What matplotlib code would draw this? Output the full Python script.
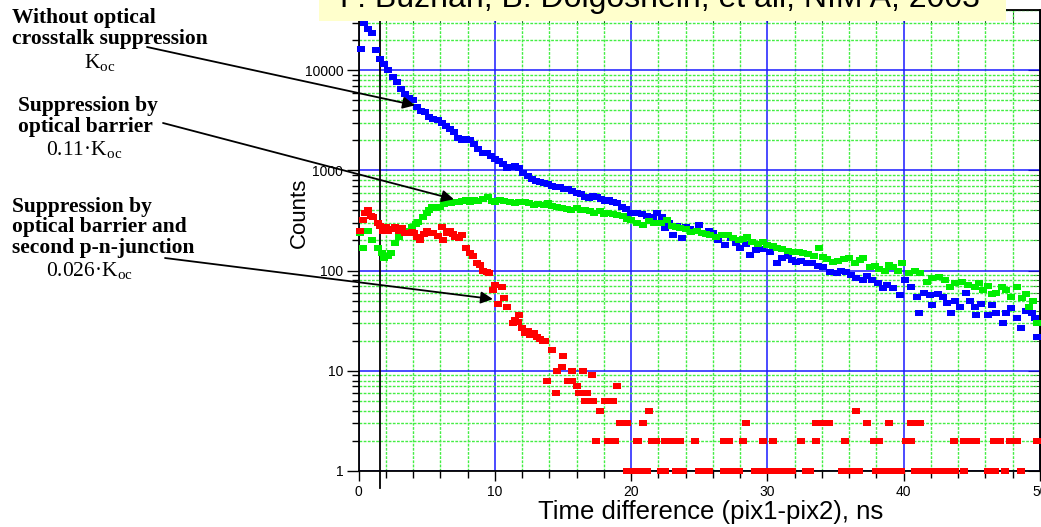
import numpy as np
import matplotlib
matplotlib.use("Agg")
import matplotlib.pyplot as plt
from matplotlib.patches import Rectangle
from matplotlib.ticker import MultipleLocator, LogLocator, NullFormatter

plt.rcParams['font.family'] = ['Liberation Sans', 'DejaVu Sans']
plt.rcParams['mathtext.fontset'] = 'custom'
plt.rcParams['mathtext.rm'] = 'Liberation Serif'

# blue: without optical crosstalk suppression
blue_t = [0.2, 0.4, 0.7, 1.0, 1.3, 1.6, 1.9, 2.2, 2.5, 2.8, 3.1, 3.4, 3.7, 4.0, 4.3, 4.6,
          4.9, 5.2, 5.5, 5.8, 6.1, 6.4, 6.7, 7.0, 7.3, 7.6, 7.9, 8.2, 8.5, 8.8, 9.1, 9.4,
          9.7, 10.0, 10.3, 10.6, 10.9, 11.2, 11.5, 11.8, 12.1, 12.4, 12.7, 13.0, 13.3, 13.6,
          13.9, 14.2, 14.5, 14.8, 15.1, 15.4, 15.7, 16.0, 16.3, 16.6, 16.9, 17.2, 17.5, 17.8,
          18.1, 18.4, 18.7, 19.0, 19.3, 19.6, 20.0, 20.4, 20.8, 21.2, 21.6, 21.9, 22.3, 22.5,
          22.8, 23.1, 23.4, 23.7, 24.0, 24.3, 24.6, 25.0, 25.3, 25.7, 26.0, 26.4, 26.9, 27.3,
          27.7, 28.0, 28.4, 28.7, 29.2, 29.6, 30.2, 30.7, 31.1, 31.5, 31.8, 32.1, 32.5, 32.9,
          33.3, 33.7, 34.1, 34.6, 35.1, 35.4, 35.8, 36.1, 36.5, 37.0, 37.3, 37.7, 38.1, 38.5,
          38.8, 39.2, 39.7, 40.1, 40.5, 41.0, 41.1, 41.5, 41.9, 42.1, 42.5, 42.9, 43.2, 43.5,
          43.8, 44.1, 44.6, 44.9, 45.2, 45.3, 45.7, 46.2, 46.5, 46.8, 47.3, 47.5, 47.9, 48.3,
          48.6, 49.0, 49.4, 49.6, 49.8]
blue_n = [16500, 30000, 26000, 23500, 16000, 13000, 11500, 10000, 8500, 7600, 6500, 5800,
          5300, 5000, 4300, 3900, 3800, 3400, 3300, 3200, 3000, 2800, 2600, 2400, 2100, 2000,
          2050, 2000, 1850, 1650, 1500, 1480, 1400, 1300, 1250, 1150, 1050, 1080, 1120, 1050,
          950, 880, 820, 780, 760, 750, 740, 700, 680, 680, 660, 650, 620, 590, 580, 540, 530,
          550, 540, 520, 500, 510, 480, 470, 430, 410, 380, 375, 370, 350, 340, 380, 340, 265,
          300, 225, 280, 210, 270, 260, 250, 285, 240, 250, 235, 200, 180, 210, 190, 170, 185,
          142, 160, 165, 153, 118, 133, 140, 128, 121, 125, 118, 120, 112, 108, 97, 94, 100,
          97, 90, 84, 80, 88, 80, 75, 67, 72, 67, 57, 80, 68, 54, 38, 60, 57, 45, 58, 54, 48,
          38, 50, 43, 60, 50, 43, 36, 47, 36, 45, 38, 30, 38, 42, 34, 27, 40, 38, 34, 22]

# green: suppression by optical barrier
green_t = [0.1, 0.3, 0.7, 1.0, 1.4, 1.7, 1.9, 2.2, 2.4, 2.7, 3.0, 3.4, 3.7, 3.9, 4.2, 4.4,
           4.7, 5.0, 5.2, 5.4, 5.7, 6.0, 6.3, 6.5, 6.8, 7.1, 7.4, 7.6, 7.9, 8.2, 8.5, 8.8,
           9.1, 9.5, 9.8, 10.0, 10.4, 10.7, 11.1, 11.5, 11.8, 12.2, 12.5, 12.9, 13.2, 13.6,
           13.9, 14.2, 14.6, 14.9, 15.3, 15.6, 16.0, 16.3, 16.6, 17.0, 17.3, 17.7, 18.0, 18.3,
           18.7, 19.0, 19.4, 19.7, 20.0, 20.4, 20.9, 21.3, 21.7, 22.2, 22.6, 23.0, 23.3, 23.6,
           24.0, 24.4, 24.8, 25.2, 25.5, 25.8, 26.2, 26.7, 27.1, 27.5, 27.9, 28.2, 28.5, 28.9,
           29.3, 29.7, 30.0, 30.4, 30.7, 31.1, 31.5, 31.9, 32.3, 32.6, 33.0, 33.4, 33.8, 34.1,
           34.4, 34.8, 35.2, 35.6, 36.0, 36.4, 36.8, 37.0, 37.5, 37.9, 38.2, 38.6, 38.9, 39.2,
           39.6, 39.9, 40.4, 40.8, 41.2, 41.7, 42.1, 42.6, 43.0, 43.4, 43.8, 44.3, 44.7, 45.2,
           45.5, 45.8, 46.2, 46.5, 46.8, 47.2, 47.5, 47.9, 48.3, 48.7, 49.0, 49.2, 49.5, 49.8]
green_n = [235, 167, 250, 200, 167, 150, 135, 140, 150, 190, 215, 235, 250, 270, 290, 305,
           340, 375, 400, 430, 420, 430, 460, 480, 470, 480, 490, 500, 510, 490, 505, 500,
           520, 540, 500, 480, 510, 500, 480, 470, 480, 490, 470, 450, 460, 455, 470, 440,
           430, 420, 410, 400, 420, 405, 400, 390, 380, 390, 370, 375, 365, 360, 350, 330,
           320, 300, 285, 310, 300, 300, 320, 280, 270, 265, 260, 245, 250, 240, 230, 225,
           215, 225, 225, 210, 200, 205, 215, 195, 185, 192, 180, 178, 170, 165, 158, 153,
           155, 150, 145, 140, 168, 137, 130, 121, 125, 130, 133, 120, 128, 133, 108, 112,
           105, 100, 115, 108, 100, 118, 94, 100, 94, 77, 85, 86, 80, 68, 75, 77, 72, 68, 75,
           64, 70, 58, 60, 68, 64, 55, 68, 53, 58, 43, 50, 30]

# red: suppression by optical barrier and second p-n-junction
red_t = [0.1, 0.3, 0.5, 0.7, 0.9, 1.1, 1.4, 1.6, 1.8, 2.0, 2.2, 2.5, 2.7, 3.0, 3.2, 3.4,
         3.6, 3.9, 4.1, 4.3, 4.5, 4.8, 5.0, 5.3, 5.5, 5.8, 6.1, 6.2, 6.5, 6.7, 6.9, 7.1,
         7.4, 7.6, 7.9, 8.2, 8.4, 8.7, 8.9, 9.1, 9.4, 9.6, 9.9, 10.0, 10.2, 10.5, 10.7, 10.9,
         11.3, 11.5, 11.7, 11.8, 12.0, 12.2, 12.4, 12.6, 12.9, 13.1, 13.3, 13.5, 13.7, 13.8,
         14.2, 14.5, 14.6, 14.9, 15.0, 15.4, 15.7, 15.7, 16.0, 16.2, 16.5, 16.6, 16.8, 17.1,
         17.2, 18.1, 18.4, 18.7, 19.0]
red_n = [250, 320, 380, 400, 350, 340, 300, 280, 250, 270, 250, 260, 270, 250, 265, 240,
         235, 245, 235, 215, 200, 230, 250, 240, 235, 220, 270, 200, 235, 250, 230, 215,
         210, 225, 170, 150, 140, 120, 115, 100, 98, 95, 64, 72, 47, 68, 53, 43,
         30, 32, 31, 36, 27, 24, 25, 23, 24, 22, 21, 20, 20, 8,
         16, 6, 10, 11, 14, 8, 8, 10, 7, 6, 10, 5, 6, 9,
         5, 5, 5, 5, 7]
# sparse tail: times of bins holding 4, 3, 2 and 1 counts
red_t_4 = [17.7, 21.3, 36.5]
red_t_3 = [19.2, 19.5, 19.7, 20.9, 28.4, 33.6, 33.9, 34.5, 37.3, 38.9, 40.5, 40.8, 41.2]
red_t_2 = [17.4, 18.3, 18.6, 18.8, 20.4, 20.5, 21.5, 21.8, 22.5, 22.8, 23.1, 23.4, 23.6,
           24.7, 26.8, 27.0, 27.2, 28.2, 29.7, 30.4, 32.5, 33.6, 35.7, 37.8, 38.2, 40.2,
           40.5, 43.7, 44.4, 44.8, 45.3, 46.6, 47.1, 47.8, 48.1, 48.3, 49.8]
red_t_1 = [19.7, 20.0, 20.3, 20.6, 20.9, 21.2, 22.2, 22.5, 23.3, 23.6, 23.8, 25.0, 25.3,
           25.7, 26.8, 27.1, 27.4, 27.7, 27.9, 29.1, 29.4, 29.7, 30.0, 30.3, 30.6, 30.9,
           31.2, 31.5, 31.8, 32.8, 33.1, 35.5, 35.8, 36.1, 36.4, 36.7, 38.0, 38.3, 38.6,
           38.9, 39.2, 39.5, 39.8, 40.8, 41.1, 41.4, 41.7, 42.0, 42.6, 42.9, 43.2, 43.5,
           43.8, 44.4, 46.2, 46.5, 46.7, 47.4, 48.6]

W, H = 1041, 527
fig = plt.figure(figsize=(W / 100, H / 100), dpi=100)
fig.patch.set_facecolor('white')


def fx(px):
    return px / W


def fy(py):
    return 1 - py / H


ax = fig.add_axes([fx(358.5), fy(471), fx(1040) - fx(358.5), fy(10) - fy(471)])
ax.set_yscale('log')
ax.set_xlim(0, 50)
ax.set_ylim(1, 4e4)

# grid: blue major, dotted light green minor
ax.xaxis.set_major_locator(MultipleLocator(10))
ax.xaxis.set_minor_locator(MultipleLocator(2))
ax.yaxis.set_major_locator(LogLocator(base=10, numticks=10))
ax.yaxis.set_minor_locator(LogLocator(base=10, subs=np.arange(2, 10), numticks=20))
ax.yaxis.set_minor_formatter(NullFormatter())
ax.grid(which='minor', color='#44ee44', linestyle=(0, (2, 1)), linewidth=1.0, zorder=0)
ax.grid(which='major', color='#1a1aff', linestyle='-', linewidth=1.1, zorder=0)
ax.set_axisbelow(True)

ax.tick_params(which='both', labelsize=10, colors='black', width=1)
ax.tick_params(axis='y', which='major', direction='out', length=9, pad=2)
ax.tick_params(axis='y', which='minor', direction='out', length=5)
ax.tick_params(axis='x', which='major', direction='out', length=7, pad=3)
ax.tick_params(axis='x', which='minor', direction='out', length=5)
for sp in ax.spines.values():
    sp.set_linewidth(1.3)

ax.set_yticks([1, 10, 100, 1000, 10000])
ax.set_yticklabels(['1', '10', '100', '1000', '10000'])

# inward ticks on top and right
top = ax.secondary_xaxis('top')
top.xaxis.set_major_locator(MultipleLocator(10))
top.xaxis.set_minor_locator(MultipleLocator(2))
top.tick_params(which='major', direction='in', length=9, labeltop=False)
top.tick_params(which='minor', direction='in', length=9)
right = ax.secondary_yaxis('right')
right.yaxis.set_major_locator(LogLocator(base=10, numticks=10))
right.yaxis.set_minor_locator(LogLocator(base=10, subs=np.arange(2, 10), numticks=20))
right.yaxis.set_minor_formatter(NullFormatter())
right.tick_params(which='major', direction='in', length=9, labelright=False)
right.tick_params(which='minor', direction='in', length=5)

# vertical reference line
ax.plot([1.55, 1.55], [0.68, 4e4], color='black', linewidth=1.3, clip_on=False, zorder=2)

red_all_t = red_t + red_t_4 + red_t_3 + red_t_2 + red_t_1
red_all_n = red_n + [4] * len(red_t_4) + [3] * len(red_t_3) + [2] * len(red_t_2) + [1] * len(red_t_1)

box = [(-1, -0.8), (1, -0.8), (1, 0.8), (-1, 0.8)]
ms = 5.4
ax.plot(blue_t, blue_n, linestyle='none', marker=box, color='#0000ff', markersize=ms,
        markeredgewidth=0, zorder=3, clip_on=False)
ax.plot(green_t, green_n, linestyle='none', marker=box, color='#00ee00', markersize=ms,
        markeredgewidth=0, zorder=4, clip_on=False)
ax.plot(red_all_t, red_all_n, linestyle='none', marker=box, color='#ff0000', markersize=ms,
        markeredgewidth=0, zorder=5, clip_on=False)

ax.set_ylabel('Counts', fontsize=16)
ax.yaxis.set_label_coords(-0.072, 0.56)
ax.set_xlabel('Time difference (pix1-pix2), ns', fontsize=18.5)
ax.xaxis.set_label_coords(0.516, -0.063)

# annotations on the left
serif = ['Liberation Serif', 'DejaVu Serif']
left_lines = [
    ('Without optical', 12, 23),
    ('crosstalk suppression', 12, 44),
    ('Suppression by', 18, 111),
    ('optical barrier', 18, 132),
    ('Suppression by', 12, 212),
    ('optical barrier and', 12, 232),
    ('second p-n-junction', 12, 253),
]
for s, px, py in left_lines:
    fig.text(fx(px), fy(py), s, family=serif, fontsize=15.5, fontweight='bold',
             ha='left', va='baseline')

k_lines = [
    (r'K$_{\mathrm{oc}}$', 100, 68),
    (r'0.11·K$_{\mathrm{oc}}$', 84, 155),
    (r'0.026·K$_{\mathrm{oc}}$', 90, 276),
]
for s, px, py in k_lines:
    fig.text(fx(px), fy(py), s, family=serif, fontsize=15.5, ha='center', va='baseline')

arrows = [
    ((4.14, 4470), (147, 47)),
    ((7.0, 516), (163, 123)),
    ((9.86, 52), (165, 258)),
]
for tip, (px, py) in arrows:
    ax.annotate('', xy=tip, xycoords='data', xytext=(px, H - py), textcoords='figure pixels',
                arrowprops=dict(arrowstyle='-|>', color='black', lw=1.3, mutation_scale=18,
                                shrinkA=0, shrinkB=0),
                annotation_clip=False, zorder=6)

# reference banner at the top
banner = Rectangle((fx(319), fy(21)), fx(1006) - fx(319), 1 - fy(21),
                   transform=fig.transFigure, facecolor='#ffffcc', edgecolor='none', zorder=10)
fig.patches.append(banner)
fig.text(fx(660), fy(7), 'P. Buzhan, B. Dolgoshein, et all, NIM A, 2003', fontsize=23,
         ha='center', va='baseline', zorder=11)

fig.savefig('out.png', dpi=100)
